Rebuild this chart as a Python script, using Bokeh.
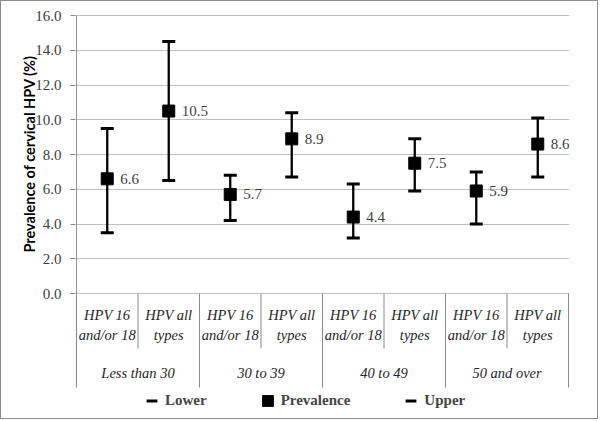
from bokeh.plotting import figure
from bokeh.models import Range1d, FixedTicker, PrintfTickFormatter, Legend, LegendItem, ColumnDataSource, Title
from bokeh.core.properties import value
from bokeh.embed import file_html
from bokeh.resources import INLINE

# ---- data ----
age_groups = ["Less than 30", "30 to 39", "40 to 49", "50 and over"]
hpv_types = ["HPV 16\nand/or 18", "HPV all\ntypes"]
prevalence = [6.6, 10.5, 5.7, 8.9, 4.4, 7.5, 5.9, 8.6]
lower = [3.5, 6.5, 4.2, 6.7, 3.2, 5.9, 4.0, 6.7]
upper = [9.5, 14.5, 6.8, 10.4, 6.3, 8.9, 7.0, 10.1]
y_ticks = [0, 2, 4, 6, 8, 10, 12, 14, 16]
y_title = "Prevalence of cervical HPV (%)"

n_types = len(hpv_types)
n = len(age_groups) * n_types
xs = [i + 0.5 for i in range(n)]
sub_labels = [hpv_types[i % n_types] for i in range(n)]
labels = ["%.1f" % v for v in prevalence]

SERIF = "Liberation Serif"
GRID = "#c0c0c0"
AXIS = "#8a8a8a"

PX = 17.375               # pixels per unit
Y_SEP = -94 / PX          # bottom of category separators
Y_BOTTOM = -125 / PX      # frame bottom (legend area)
Y_TOP = 16 + 1 / PX
p = figure(width=598, height=419, output_backend="svg", toolbar_location=None,
           x_range=Range1d(-0.016, n + 0.016), y_range=Range1d(Y_BOTTOM, Y_TOP),
           min_border_top=13, min_border_right=30, min_border_left=74, min_border_bottom=2)
p.styles = {"border": "1px solid #8c8c8c"}
p.outline_line_color = None
p.xaxis.visible = False
p.xgrid.visible = False

yax = p.yaxis[0]
yax.ticker = FixedTicker(ticks=y_ticks)
yax.formatter = PrintfTickFormatter(format="%.1f")
yax.major_label_text_font = SERIF
yax.major_label_text_font_size = "15px"
yax.major_label_text_color = "#404040"
yax.major_tick_out = 5
yax.major_tick_in = 0
yax.minor_tick_out = 0
yax.minor_tick_in = 0
yax.major_tick_line_color = AXIS
yax.axis_line_color = None
yax.major_label_standoff = 9
p.ygrid.ticker = FixedTicker(ticks=y_ticks)
p.ygrid.grid_line_color = GRID

# value-axis title, placed along the 0..16 part of the frame
ytitle = Title(text=y_title, align="left", offset=166, standoff=-10, vertical_align="bottom",
               text_font="Lato", text_font_style="bold", text_font_size="14.5px", text_color="#000000")
p.add_layout(ytitle, "left")

src = ColumnDataSource(dict(x=xs, prev=prevalence, lo=lower, hi=upper, lab=labels, sub=sub_labels))

# high-low lines
p.segment(x0="x", y0="lo", x1="x", y1="hi", source=src, line_color="black", line_width=2.3)
r_lo = p.scatter(x="x", y="lo", source=src, marker="dash", size=13, line_width=3, line_color="black")
r_hi = p.scatter(x="x", y="hi", source=src, marker="dash", size=13, line_width=3, line_color="black")
r_pr = p.scatter(x="x", y="prev", source=src, marker="square", size=12, fill_color="black", line_color="black")
p.text(x="x", y="prev", text="lab", source=src, x_offset=13, text_baseline="middle", text_align="left",
       text_font=value(SERIF), text_font_size="15px", text_color="#404040")

# value axis line
p.segment(x0=[0], y0=[Y_SEP], x1=[0], y1=[16], line_color=AXIS, line_width=1)

# category axis (drawn in the area below zero)
inner_x = [g * n_types + 1 for g in range(len(age_groups))]
outer_x = [g * n_types for g in range(len(age_groups) + 1)]
p.segment(x0=inner_x, y0=[0] * len(inner_x), x1=inner_x, y1=[-55 / PX] * len(inner_x), line_color=AXIS, line_width=1)
p.segment(x0=outer_x, y0=[0] * len(outer_x), x1=outer_x, y1=[Y_SEP] * len(outer_x), line_color=AXIS, line_width=1)
p.text(x="x", y=-31 / PX, text="sub", source=src, text_align="center", text_baseline="middle",
       text_font=value(SERIF), text_font_style="italic", text_font_size="14.5px", text_color="#262626",
       text_line_height=1.25)
group_x = [g * n_types + n_types / 2 for g in range(len(age_groups))]
p.text(x=group_x, y=[-79 / PX] * len(group_x), text=age_groups, text_align="center", text_baseline="middle",
       text_font=value(SERIF), text_font_style="italic", text_font_size="14.5px", text_color="#262626")

legend = Legend(items=[LegendItem(label="Lower", renderers=[r_lo]),
                       LegendItem(label="Prevalence", renderers=[r_pr]),
                       LegendItem(label="Upper", renderers=[r_hi])],
                orientation="horizontal", location=(63, 4),
                glyph_width=27, glyph_height=27, label_standoff=0, spacing=47,
                padding=0, margin=0, border_line_color=None, background_fill_alpha=0,
                label_text_font=SERIF, label_text_font_style="bold", label_text_font_size="15px")
p.add_layout(legend)

open("out.html", "w").write(file_html(p, INLINE))
